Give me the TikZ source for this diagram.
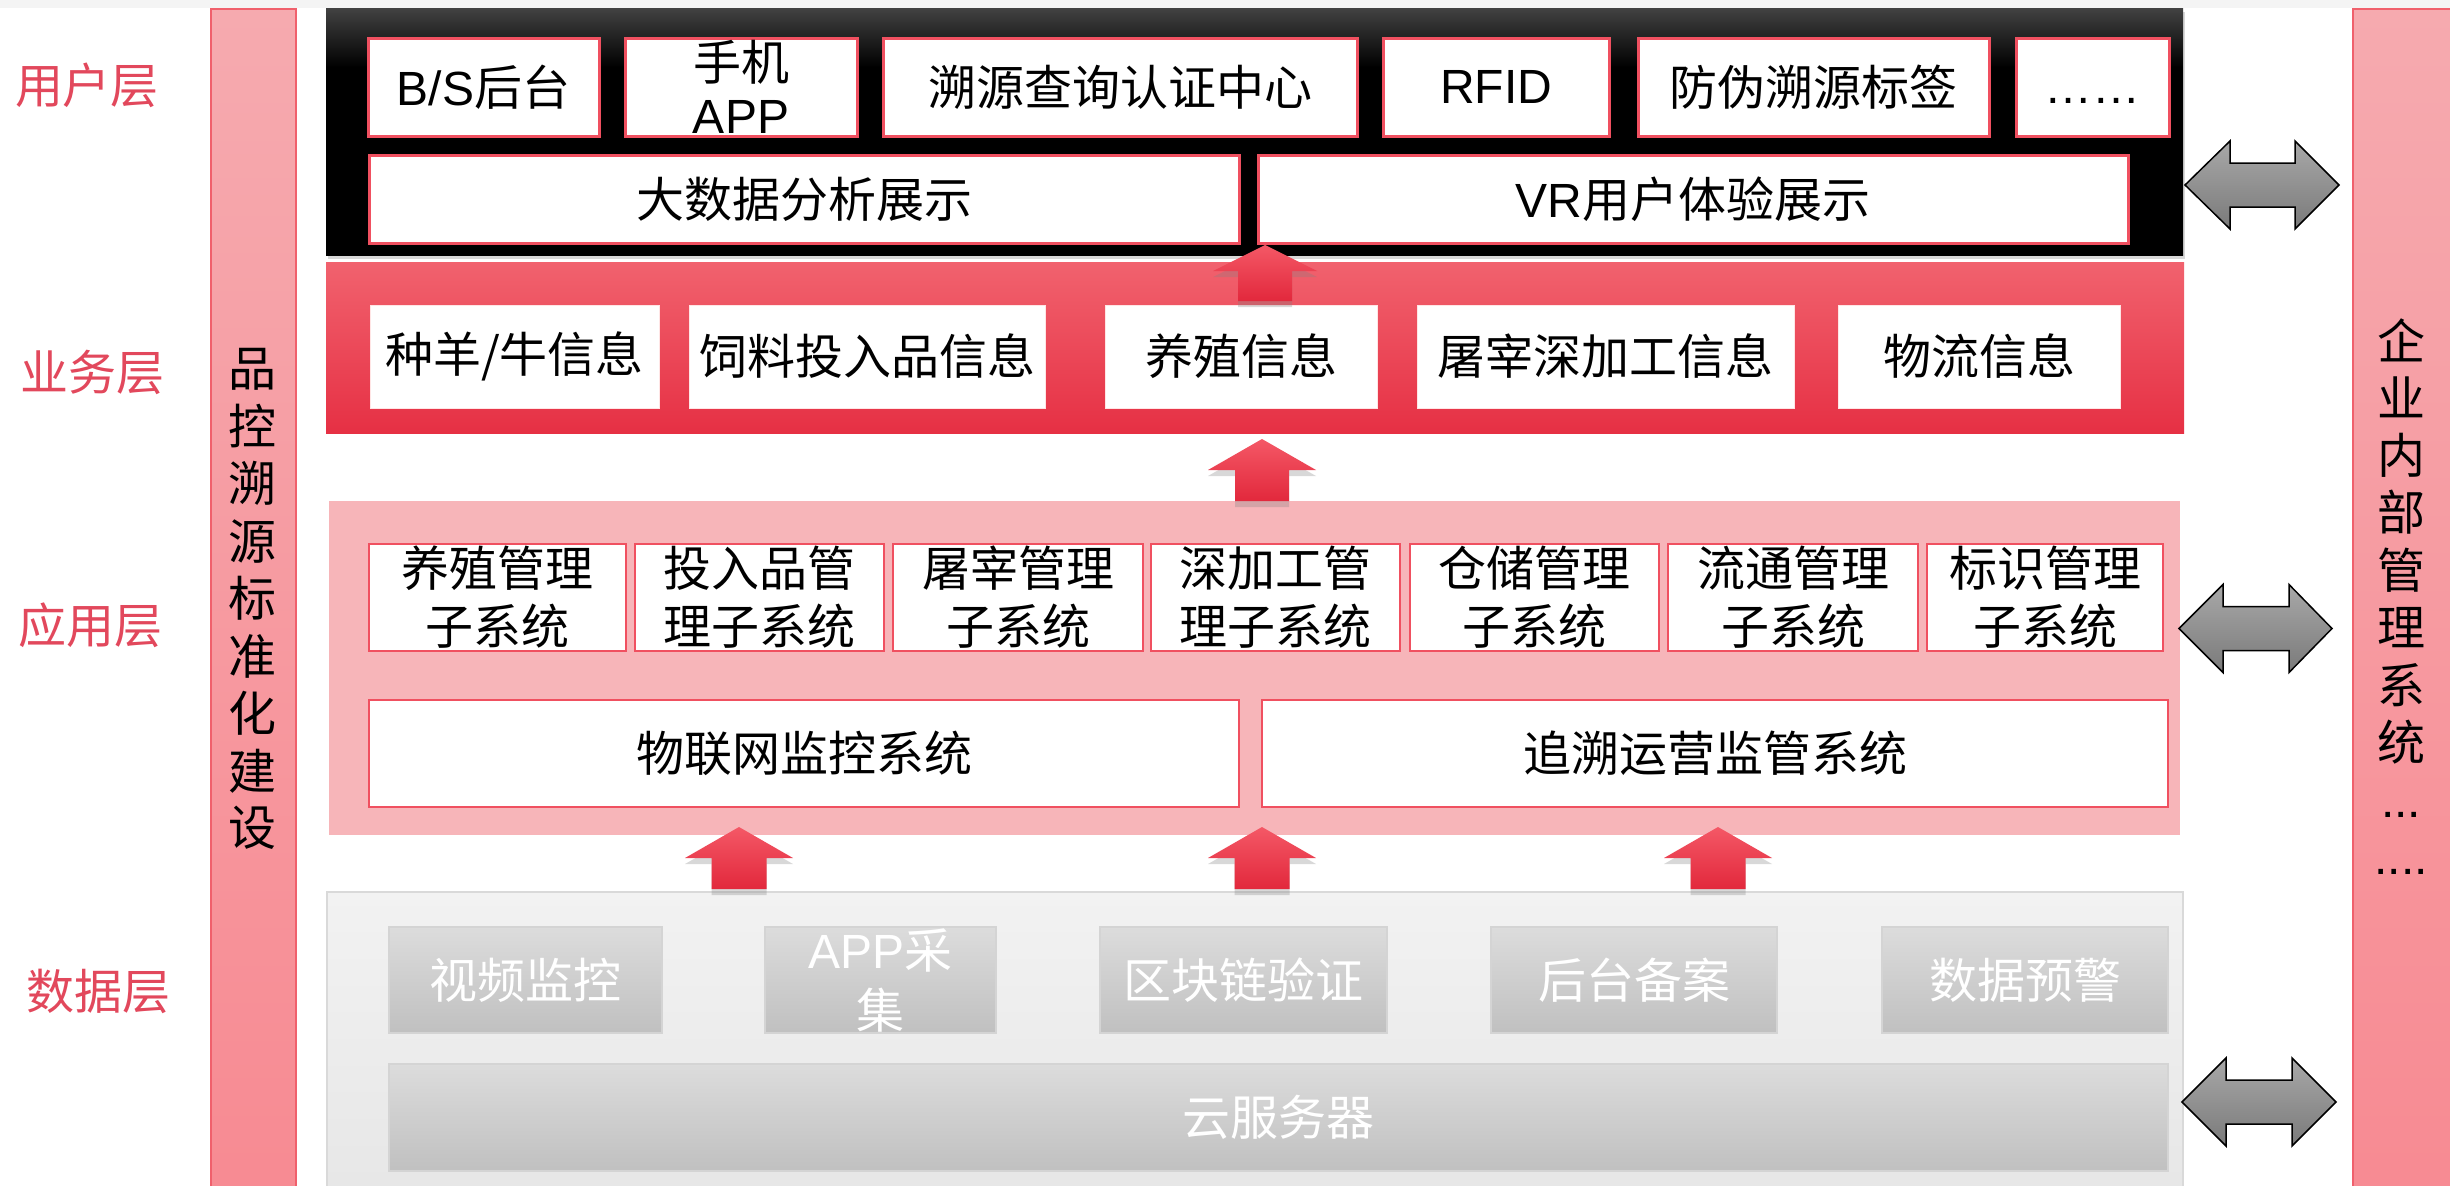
\documentclass[tikz,border=0pt]{standalone}
\usepackage{fontspec}
\setmainfont{Noto Sans CJK SC}
\newfontfamily\lat{Liberation Sans}
\usetikzlibrary{shadows}
\definecolor{boxred}{RGB}{240,80,96}
\definecolor{lblred}{RGB}{226,72,92}
\definecolor{sbtop}{RGB}{246,170,175}
\definecolor{sbbot}{RGB}{247,138,146}
\definecolor{sbedge}{RGB}{240,96,108}
\definecolor{applayer}{RGB}{247,181,185}
\definecolor{redtop}{RGB}{241,98,110}
\definecolor{redbot}{RGB}{230,48,68}
\definecolor{dltop}{RGB}{242,242,242}
\definecolor{dlbot}{RGB}{230,230,230}
\definecolor{dledge}{RGB}{217,217,217}
\definecolor{dboxtop}{RGB}{220,220,220}
\definecolor{dboxbot}{RGB}{192,192,192}
\definecolor{dboxedge}{RGB}{212,212,212}
\definecolor{arrtop}{RGB}{244,88,102}
\definecolor{arrbot}{RGB}{226,40,60}
\definecolor{gtop}{RGB}{168,168,168}
\definecolor{gbot}{RGB}{122,122,122}
\definecolor{blktop}{RGB}{66,66,66}
\definecolor{stripgray}{RGB}{244,244,244}
\pgfdeclareverticalshading{blackfade}{100bp}{color(0bp)=(black); color(63bp)=(black); color(75bp)=(blktop); color(100bp)=(blktop)}
\newcommand\bigfs{\fontsize{48}{58}\selectfont}
\newcommand\UpArr[6]{\path[redarrow] (#1,#2) -- ({#1+#5},#3) -- ({#1+#6},#3) -- ({#1+#6},#4) -- ({#1-#6},#4) -- ({#1-#6},#3) -- ({#1-#5},#3) -- cycle;}
\newcommand\DblArr[5]{\path[grayarrow] (#1,#5) -- (#2,{#5-44}) -- (#2,{#5-22}) -- (#3,{#5-22}) -- (#3,{#5-44}) -- (#4,#5) -- (#3,{#5+44}) -- (#3,{#5+22}) -- (#2,{#5+22}) -- (#2,{#5+44}) -- cycle;}
\tikzset{
  layerlbl/.style={text=lblred, font=\bigfs, inner sep=0},
  sidebar/.style={top color=sbtop, bottom color=sbbot, draw=sbedge, line width=2pt, inner sep=0, anchor=north west},
  ubox/.style={draw=boxred, line width=3pt, fill=white, inner sep=0, font=\bigfs, text=black, align=center},
  bbox/.style={fill=white, draw=white!90!red, line width=1pt, inner sep=0, font=\bigfs, text=black},
  abox/.style={draw=boxred, line width=2.5pt, fill=white, inner sep=0, font=\bigfs, text=black, align=center},
  dbox/.style={draw=dboxedge, line width=1.5pt, top color=dboxtop, bottom color=dboxbot, inner sep=0, font=\bigfs, text=white, align=center},
  redarrow/.style={top color=arrtop, bottom color=arrbot, draw=none, drop shadow={shadow xshift=0pt, shadow yshift=-6pt, opacity=0.3}},
  grayarrow/.style={top color=gtop, bottom color=gbot, draw=black, line width=1.5pt, line join=miter},
  vchar/.style={font=\bigfs, inner sep=0, text=black},
}
\begin{document}
\begin{tikzpicture}[x=1pt,y=-1pt]
\useasboundingbox (0,0) rectangle (2450,1186);
\fill[white] (0,0) rectangle (2450,1186);
\fill[stripgray] (0,0) rectangle (2450,8);

% side bars
\node[sidebar, minimum width=85pt, minimum height=1200pt] (lbar) at (210,8) {};
\node[sidebar, minimum width=110pt, minimum height=1200pt] (rbar) at (2352,8) {};
\foreach \c [count=\i] in {品,控,溯,源,标,准,化,建,设}
  \node[vchar] (lc\i) at (252.5,{369+57.4*(\i-1)}) {\c};
\foreach \c [count=\i] in {企,业,内,部,管,理,系,统}
  \node[vchar] (rc\i) at (2401,{340+57.5*(\i-1)}) {\c};
\node[vchar, font=\bigfs\lat] (rd1) at (2401,815) {...};
\node[vchar, font=\bigfs\lat] (rd2) at (2401,872) {....};

% layer labels
\node[layerlbl] (l1) at (87,85) {用户层};
\node[layerlbl] (l2) at (92,372) {业务层};
\node[layerlbl] (l3) at (91,625) {应用层};
\node[layerlbl] (l4) at (99,991) {数据层};

% layers
\node[shading=blackfade, inner sep=0, minimum width=1857pt, minimum height=247pt,
      drop shadow={shadow xshift=2pt, shadow yshift=-4pt, opacity=0.3}] (ul) at (1254.5,131.5) {};
\node[top color=redtop, bottom color=redbot, inner sep=0, minimum width=1858pt, minimum height=171pt] (bl) at (1255,347.5) {};
\node[fill=applayer, inner sep=0, minimum width=1851pt, minimum height=334pt] (al) at (1254.5,668) {};
\node[top color=dltop, bottom color=dlbot, draw=dledge, line width=1.5pt, inner sep=0, anchor=north west,
      minimum width=1856pt, minimum height=320pt] (dl) at (326,891) {};

% user layer
\node[ubox, minimum width=231pt, minimum height=98pt] (u1) at (483.5,87) {{\lat B/S}后台};
\node[ubox, minimum width=232pt, minimum height=98pt, font=\fontsize{48}{53}\selectfont] (u2) at (741,87) {手机\\{\lat APP}};
\node[ubox, minimum width=474pt, minimum height=98pt] (u3) at (1120,87) {溯源查询认证中心};
\node[ubox, minimum width=226pt, minimum height=98pt] (u4) at (1496,87) {\lat RFID};
\node[ubox, minimum width=351pt, minimum height=98pt] (u5) at (1813.5,87) {防伪溯源标签};
\node[ubox, minimum width=153pt, minimum height=98pt] (u6) at (2092.5,87) {\lat\vphantom{B}……};
\node[ubox, minimum width=870pt, minimum height=88pt] (u7) at (804,199) {大数据分析展示};
\node[ubox, minimum width=870pt, minimum height=88pt] (u8) at (1693,199) {{\lat VR}用户体验展示};

% business layer
\node[bbox, minimum width=289pt, minimum height=103pt] (b1) at (514.5,356.5) {种羊/牛信息};
\node[bbox, minimum width=356pt, minimum height=103pt] (b2) at (867,356.5) {饲料投入品信息};
\node[bbox, minimum width=272pt, minimum height=103pt] (b3) at (1241,356.5) {养殖信息};
\node[bbox, minimum width=377pt, minimum height=103pt] (b4) at (1605.5,356.5) {屠宰深加工信息};
\node[bbox, minimum width=282pt, minimum height=103pt] (b5) at (1979,356.5) {物流信息};

% application layer
\node[abox, minimum width=257pt, minimum height=107pt] (a1) at (497.5,597.5) {养殖管理\\子系统};
\node[abox, minimum width=249pt, minimum height=107pt] (a2) at (759.5,597.5) {投入品管\\理子系统};
\node[abox, minimum width=250pt, minimum height=107pt] (a3) at (1018,597.5) {屠宰管理\\子系统};
\node[abox, minimum width=249pt, minimum height=107pt] (a4) at (1275.5,597.5) {深加工管\\理子系统};
\node[abox, minimum width=249pt, minimum height=107pt] (a5) at (1534.5,597.5) {仓储管理\\子系统};
\node[abox, minimum width=250pt, minimum height=107pt] (a6) at (1793,597.5) {流通管理\\子系统};
\node[abox, minimum width=236pt, minimum height=107pt] (a7) at (2045,597.5) {标识管理\\子系统};
\node[abox, minimum width=870pt, minimum height=107pt] (a8) at (804,753.5) {物联网监控系统};
\node[abox, minimum width=906pt, minimum height=107pt] (a9) at (1715,753.5) {追溯运营监管系统};

% data layer
\node[dbox, minimum width=273pt, minimum height=106pt] (d1) at (525.5,980) {视频监控};
\node[dbox, minimum width=231pt, minimum height=106pt, font=\fontsize{48}{60}\selectfont] (d2) at (880.5,980) {{\lat APP}采\\集};
\node[dbox, minimum width=287pt, minimum height=106pt] (d3) at (1243.5,980) {区块链验证};
\node[dbox, minimum width=286pt, minimum height=106pt] (d4) at (1634,980) {后台备案};
\node[dbox, minimum width=286pt, minimum height=106pt] (d5) at (2025,980) {数据预警};
\node[dbox, minimum width=1779pt, minimum height=107pt] (d6) at (1278.5,1117.5) {云服务器};

% red up arrows
\UpArr{1265}{245}{271}{301}{52}{27}
\UpArr{1262}{439}{470}{501}{54}{27}
\UpArr{739}{827}{858}{889}{54}{27.5}
\UpArr{1262}{827}{858}{889}{54}{27.5}
\UpArr{1718}{827}{858}{889}{54}{27.5}

% gray double arrows
\DblArr{2185}{2230}{2295}{2339}{185}
\DblArr{2179}{2223}{2289}{2332}{628.5}
\DblArr{2182}{2226}{2292}{2336}{1102}
\end{tikzpicture}
\end{document}
